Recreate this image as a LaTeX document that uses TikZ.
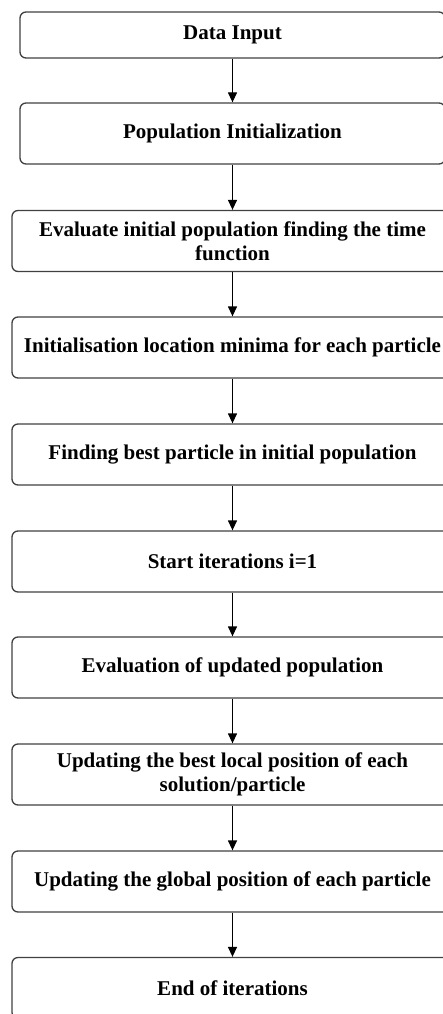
\documentclass[tikz,border=0pt]{standalone}
\usepackage{fontspec}
\setmainfont{Liberation Serif}
\usetikzlibrary{arrows.meta}
\begin{document}
\begin{tikzpicture}[x=1pt,y=-1pt,
  box/.style={draw=black!75, line width=1.3pt, rounded corners=6pt,
    font=\bfseries\fontsize{21}{23.5}\selectfont, align=center, inner sep=0pt,
    minimum height=61pt},
  narrow/.style={minimum width=425pt},
  wide/.style={minimum width=441pt},
  arr/.style={-{Triangle[length=10pt,width=9pt]}, line width=1.3pt, black}]
\useasboundingbox (0,0) rectangle (443,1014);
\clip (0,0) rectangle (443,1014);
\node[box, narrow, minimum height=46pt] (n1) at (232.5,35) {Data Input};
\node[box, narrow] (n2) at (232.5,133.5) {Population Initialization};
\node[box, wide] (n3) at (232.5,241) {Evaluate initial population finding the time\\function};
\node[box, wide] (n4) at (232.5,347.5) {Initialisation location minima for each particle};
\node[box, wide] (n5) at (232.5,454.5) {Finding best particle in initial population};
\node[box, wide] (n6) at (232.5,561.5) {Start iterations i=1};
\node[box, wide] (n7) at (232.5,667.5) {Evaluation of updated population};
\node[box, wide] (n8) at (232.5,774.5) {Updating the best local position of each\\solution/particle};
\node[box, wide] (n9) at (232.5,881.5) {Updating the global position of each particle};
\node[box, wide] (n10) at (232.5,988) {End of iterations};
\foreach \a/\b in {n1/n2,n2/n3,n3/n4,n4/n5,n5/n6,n6/n7,n7/n8,n8/n9,n9/n10}
  \draw[arr] (\a.south) -- (\b.north);
\end{tikzpicture}
\end{document}
